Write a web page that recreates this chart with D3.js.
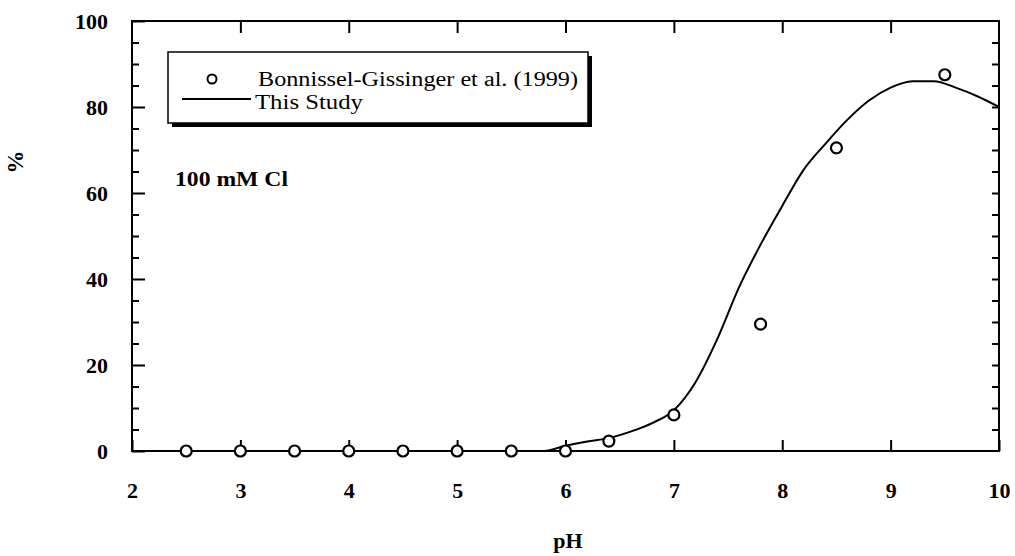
<!DOCTYPE html>
<html>
<head>
<meta charset="utf-8">
<script src="https://cdn.jsdelivr.net/npm/d3@7"></script>
<style>
  html, body { margin: 0; padding: 0; background: #fff; }
  svg { display: block; }
  text { font-family: "Liberation Serif", "Times New Roman", serif; fill: #000; }
</style>
</head>
<body>
<svg id="chart" width="1015" height="556"></svg>
<script>
// ---- Data ----
const obsPH = [2.5, 3, 3.5, 4, 4.5, 5, 5.5, 6, 6.4, 7, 7.8, 8.5, 9.5];
const obsPct = [0, 0, 0, 0, 0, 0, 0, 0, 2.3, 8.4, 29.5, 70.5, 87.5];

const modelPH = [2, 5.8, 6.0, 6.2, 6.4, 6.6, 6.8, 7.0, 7.2, 7.4, 7.6, 7.8, 8.0, 8.2, 8.4, 8.6, 8.8, 9.0, 9.2, 9.4, 9.6, 9.8, 10];
const modelPct = [0, 0, 1.2, 2.2, 3.0, 4.5, 6.5, 9.5, 16, 26, 38, 48, 57, 65.5, 71.5, 77, 81.5, 84.5, 86, 86, 84.5, 82.5, 80];

const xTicks = [2, 3, 4, 5, 6, 7, 8, 9, 10];
const yTicks = [0, 20, 40, 60, 80, 100];
const yMinorTicks = [0, 5, 10, 15, 20, 25, 30, 35, 40, 45, 50, 55, 60, 65, 70, 75, 80, 85, 90, 95, 100];

const legendLabels = ["Bonnissel-Gissinger et al. (1999)", "This Study"];
const annotation = "100 mM Cl";
const xLabel = "pH";
const yLabel = "%";

// ---- Layout ----
const svg = d3.select("#chart");
const L = 132, R = 999, T = 21, B = 451;

const x = d3.scaleLinear().domain([2, 10]).range([L, R]);
const y = d3.scaleLinear().domain([0, 100]).range([B, T]);

const gx = svg.append("g").attr("transform", `translate(0,${B})`)
  .call(d3.axisBottom(x).tickValues(xTicks).tickFormat(d3.format("d"))
    .tickSizeInner(-11).tickSizeOuter(0).tickPadding(31));
const gxt = svg.append("g").attr("transform", `translate(0,${T})`)
  .call(d3.axisTop(x).tickValues(xTicks.slice(1, -1)).tickFormat("")
    .tickSizeInner(-12).tickSizeOuter(0));
const gym = svg.append("g").attr("transform", `translate(${L},0)`)
  .call(d3.axisLeft(y).tickValues(yMinorTicks.filter(v => v % 20 !== 0)).tickFormat("")
    .tickSizeInner(-7).tickSizeOuter(0));
const gy = svg.append("g").attr("transform", `translate(${L},0)`)
  .call(d3.axisLeft(y).tickValues(yTicks).tickFormat(d3.format("d"))
    .tickSizeInner(-13).tickSizeOuter(0).tickPadding(24));
const gyr = svg.append("g").attr("transform", `translate(${R},0)`)
  .call(d3.axisRight(y).tickValues(yMinorTicks.slice(1, -1)).tickFormat("")
    .tickSizeInner(-7).tickSizeOuter(0));

[gx, gxt, gym, gy, gyr].forEach(g => {
  g.select(".domain").remove();
  g.selectAll(".tick line").attr("stroke", "#000").attr("stroke-width", 2);
});
[gx, gy].forEach(g => g.selectAll(".tick text").attr("font-size", 22).attr("font-weight", "bold")
  .attr("font-family", "Liberation Serif"));

svg.append("rect").attr("x", L).attr("y", T).attr("width", R - L).attr("height", B - T)
  .attr("fill", "none").attr("stroke", "#000").attr("stroke-width", 2);

const line = d3.line().x((d, i) => x(modelPH[i])).y((d, i) => y(modelPct[i]))
  .curve(d3.curveMonotoneX);
svg.append("path").datum(modelPct).attr("d", line)
  .attr("fill", "none").attr("stroke", "#000").attr("stroke-width", 2);

svg.append("g").selectAll("circle").data(obsPH).join("circle")
  .attr("cx", d => x(d)).attr("cy", (d, i) => y(obsPct[i])).attr("r", 5.5)
  .attr("fill", "#fff").attr("stroke", "#000").attr("stroke-width", 2.2);

// Legend
const lg = svg.append("g");
lg.append("rect").attr("x", 172).attr("y", 56).attr("width", 420).attr("height", 71).attr("fill", "#000");
lg.append("rect").attr("x", 168).attr("y", 52).attr("width", 420).attr("height", 71)
  .attr("fill", "#fff").attr("stroke", "#000").attr("stroke-width", 1.5);
lg.append("circle").attr("cx", 212).attr("cy", 79).attr("r", 4.5)
  .attr("fill", "#fff").attr("stroke", "#000").attr("stroke-width", 2);
lg.append("line").attr("x1", 182).attr("x2", 251).attr("y1", 99).attr("y2", 99)
  .attr("stroke", "#000").attr("stroke-width", 2);
lg.append("text").attr("x", 258).attr("y", 86).attr("font-size", 20)
  .attr("textLength", 320).attr("lengthAdjust", "spacingAndGlyphs").text(legendLabels[0]);
lg.append("text").attr("x", 255).attr("y", 109).attr("font-size", 20)
  .attr("textLength", 108).attr("lengthAdjust", "spacingAndGlyphs").text(legendLabels[1]);

svg.append("text").attr("x", 175).attr("y", 186).attr("font-size", 22).attr("font-weight", "bold")
  .attr("textLength", 113).attr("lengthAdjust", "spacingAndGlyphs").text(annotation);

svg.append("text").attr("x", 568).attr("y", 548).attr("text-anchor", "middle")
  .attr("font-size", 22).attr("font-weight", "bold").text(xLabel);
svg.append("text").attr("transform", "translate(23,162) rotate(-90)").attr("text-anchor", "middle")
  .attr("font-size", 23).attr("font-weight", "bold").text(yLabel);
</script>
</body>
</html>
